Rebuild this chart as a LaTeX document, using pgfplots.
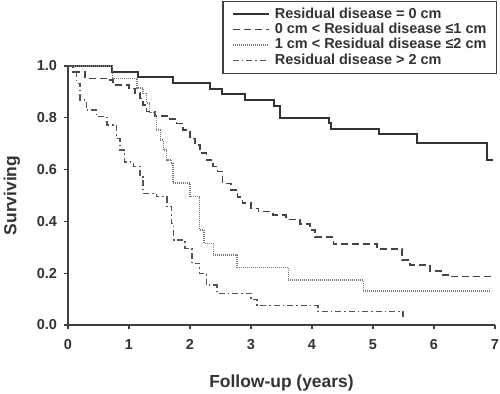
\documentclass[border=0pt]{standalone}
\usepackage{fontspec}
\setmainfont{Liberation Sans}
\usepackage{pgfplots}
\pgfplotsset{compat=1.18}
\definecolor{c1}{HTML}{333333}
\definecolor{c2}{HTML}{444444}
\definecolor{c3}{HTML}{7A7A7A}
\definecolor{c4}{HTML}{555555}
\definecolor{ax}{HTML}{404040}
\begin{document}
\begin{tikzpicture}
\useasboundingbox (-68bp,-69bp) rectangle (432bp,325bp);
\begin{axis}[
  at={(0,0)}, anchor=south west,
  scale only axis, width=427bp, height=259bp,
  xmin=0, xmax=7, ymin=0, ymax=1,
  axis x line=bottom, axis y line=left,
  axis line style={ax, line width=1.6bp, -},
  tick style={ax, line width=1.4bp},
  tick align=outside, major tick length=4bp,
  xtick={0,1,...,7}, ytick={0,0.2,0.4,0.6,0.8,1.0},
  /pgf/number format/assume math mode=true,
  xticklabel={\pgfmathprintnumber{\tick}},
  yticklabel={\pgfmathprintnumber[fixed,fixed zerofill,precision=1]{\tick}},
  tick label style={font=\bfseries\fontsize{14.5}{16}\selectfont, text=c1},
  x tick label style={yshift=-7bp},
  y tick label style={xshift=-3.5bp},
  xlabel={Follow-up (years)}, ylabel={Surviving},
  label style={font=\bfseries\fontsize{17.5}{19}\selectfont, text=c1},
  xlabel style={at={(axis description cs:0.5,0)}, anchor=center, yshift=-58bp},
  ylabel style={at={(axis description cs:0,0.5)}, anchor=center, yshift=56bp},
  clip=false,
  legend cell align=left,
  legend image code/.code={\draw[#1] (0bp,0bp) -- (36bp,0bp);},
  legend style={at={(1.0047,1.251)}, anchor=north east, draw=ax, line width=1.2bp,
    font=\bfseries\fontsize{14.5}{16}\selectfont, text=c1,
    inner xsep=9bp, inner ysep=5bp,
    nodes={inner sep=1bp, text height=10.5bp, text depth=2.9bp}, row sep=0bp,
    /tikz/every odd column/.append style={column sep=4bp}},
]
\addplot[const plot, c1, line width=2bp] coordinates {
(0,1) (0.72,0.978) (1.14,0.956) (1.72,0.933) (2.33,0.91) (2.52,0.89) (2.90,0.869)
(3.37,0.846) (3.48,0.798) (4.28,0.778) (4.31,0.756) (5.10,0.736) (5.72,0.704)
(6.87,0.637) (6.97,0.637)};
\addlegendentry{Residual disease = 0 cm}
\addplot[const plot, c2, line width=1.6bp, dash pattern=on 7bp off 4bp] coordinates {
(0,1) (0.08,0.976) (0.28,0.952) (0.62,0.946) (0.74,0.927) (1.0,0.913) (1.1,0.895)
(1.18,0.875) (1.23,0.849) (1.29,0.824) (1.43,0.808) (1.62,0.795) (1.78,0.778)
(1.89,0.753) (2.0,0.72) (2.08,0.695) (2.16,0.663) (2.27,0.637) (2.38,0.612)
(2.45,0.592) (2.53,0.547) (2.67,0.521) (2.78,0.495) (2.86,0.47) (3.0,0.45)
(3.12,0.438) (3.36,0.425) (3.57,0.408) (3.80,0.39) (3.97,0.367) (4.05,0.339)
(4.35,0.313) (5.07,0.293) (5.48,0.251) (5.61,0.232) (5.93,0.208) (6.15,0.193)
(6.23,0.187) (6.97,0.187)};
\addlegendentry{0 cm < Residual disease ≤1 cm}
\addplot[const plot, c3, line width=1.2bp, dash pattern=on 1bp off 1bp] coordinates {
(0,1) (0.73,0.952) (1.13,0.915) (1.23,0.895) (1.29,0.857) (1.34,0.819) (1.43,0.804)
(1.45,0.753) (1.51,0.714) (1.56,0.676) (1.62,0.637) (1.70,0.625) (1.72,0.548)
(2.0,0.495) (2.16,0.367) (2.23,0.315) (2.38,0.27) (2.77,0.223) (3.61,0.174)
(4.84,0.131) (6.92,0.131)};
\addlegendentry{1 cm < Residual disease ≤2 cm}
\addplot[const plot, c4, line width=1.4bp, dash pattern=on 6bp off 3bp on 1.5bp off 3bp] coordinates {
(0,1) (0.07,0.974) (0.14,0.933) (0.2,0.869) (0.3,0.83) (0.47,0.804) (0.64,0.772)
(0.8,0.72) (0.85,0.676) (0.93,0.63) (1.07,0.612) (1.18,0.573) (1.23,0.508)
(1.45,0.495) (1.62,0.457) (1.70,0.393) (1.73,0.328) (1.92,0.296) (2.03,0.238)
(2.16,0.2) (2.27,0.154) (2.44,0.122) (3.0,0.099) (3.1,0.075) (4.1,0.051)
(5.47,0.051) (5.49,0.03)};
\addlegendentry{Residual disease > 2 cm}
\end{axis}
\end{tikzpicture}
\end{document}
